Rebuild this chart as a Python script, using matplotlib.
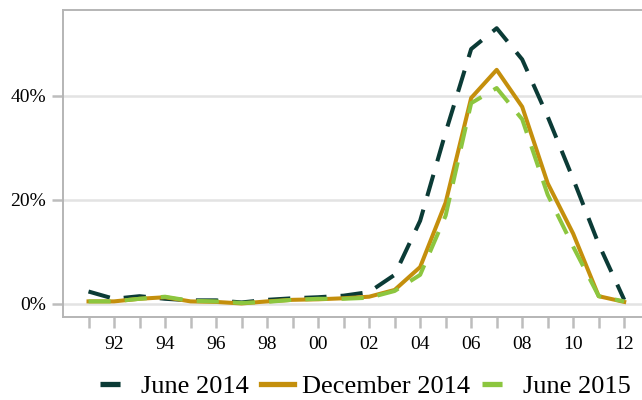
import matplotlib
matplotlib.use("Agg")
import matplotlib.pyplot as plt
from matplotlib.ticker import FixedLocator, FuncFormatter

years = list(range(1991, 2013))
june_2014 = [2.4, 1.0, 1.5, 1.0, 0.7, 0.7, 0.3, 0.8, 1.1, 1.3, 1.6, 2.3,
             5.6, 16.0, 33.0, 49.0, 53.0, 47.0, 36.0, 24.0, 11.5, 0.8]
dec_2014 = [0.5, 0.5, 1.0, 1.3, 0.5, 0.4, 0.1, 0.5, 0.8, 0.9, 1.1, 1.4,
            2.7, 7.1, 19.5, 39.6, 45.0, 37.9, 23.2, 13.5, 1.5, 0.4]
june_2015 = [0.5, 0.5, 1.0, 1.4, 0.6, 0.5, 0.2, 0.4, 0.8, 1.0, 1.0, 1.2,
             2.5, 5.6, 17.0, 38.6, 41.5, 35.5, 21.0, 11.0, 1.5, 0.5]
series_labels = ["June 2014", "December 2014", "June 2015"]
y_ticks = [0, 20, 40]
x_label_years = list(range(1992, 2013, 2))

plt.rcParams['font.family'] = ['Liberation Serif', 'DejaVu Serif']

fig = plt.figure(figsize=(6.42, 4.0), dpi=100)
ax = fig.add_axes([63/642, 1 - 317/400, 1.02 - 63/642, (317 - 10)/400])

c_dark = "#0b3b36"
c_gold = "#c48f0c"
c_green = "#8cc63f"
lw = 2.9

ax.plot(years, june_2014, color=c_dark, lw=lw, dashes=(5.5, 3.5), label=series_labels[0], zorder=3)
ax.plot(years, dec_2014, color=c_gold, lw=lw, label=series_labels[1], zorder=4)
ax.plot(years, june_2015, color=c_green, lw=lw, dashes=(5.5, 3.5), label=series_labels[2], zorder=5)

ax.set_xlim(1990, 2013.2)
ax.set_ylim(-2.5, 56.5)

ax.yaxis.set_major_locator(FixedLocator(y_ticks))
ax.yaxis.set_major_formatter(FuncFormatter(lambda v, p: f"{int(v)}%"))
ax.grid(axis='y', color="#e3e3e3", lw=1.8, zorder=0)

ax.xaxis.set_major_locator(FixedLocator(x_label_years))
ax.xaxis.set_minor_locator(FixedLocator(years))
ax.xaxis.set_major_formatter(FuncFormatter(lambda v, p: f"{int(v) % 100:02d}"))

ax.tick_params(axis='x', which='both', length=8, width=1.8, color="#bdbdbd",
               labelsize=14, pad=6)
ax.tick_params(axis='y', which='both', length=8, width=1.8, color="#bdbdbd",
               labelsize=14, pad=4)

for s in ['top', 'left', 'bottom']:
    ax.spines[s].set_color("#b5b5b5")
    ax.spines[s].set_linewidth(1.4)
ax.spines['right'].set_visible(False)

leg = fig.legend(loc='lower center', bbox_to_anchor=(0.569, -0.055), ncol=3, frameon=False,
                 fontsize=19, handlelength=1.25, handletextpad=0.3, columnspacing=0.45)
hlw = 3.8
for i, h in enumerate(leg.get_lines()):
    h.set_linewidth(hlw)
    if i == 1:
        h.set_linestyle('-')
    else:
        h.set_dashes((3.8, 6))

fig.savefig("out.png", dpi=100)
